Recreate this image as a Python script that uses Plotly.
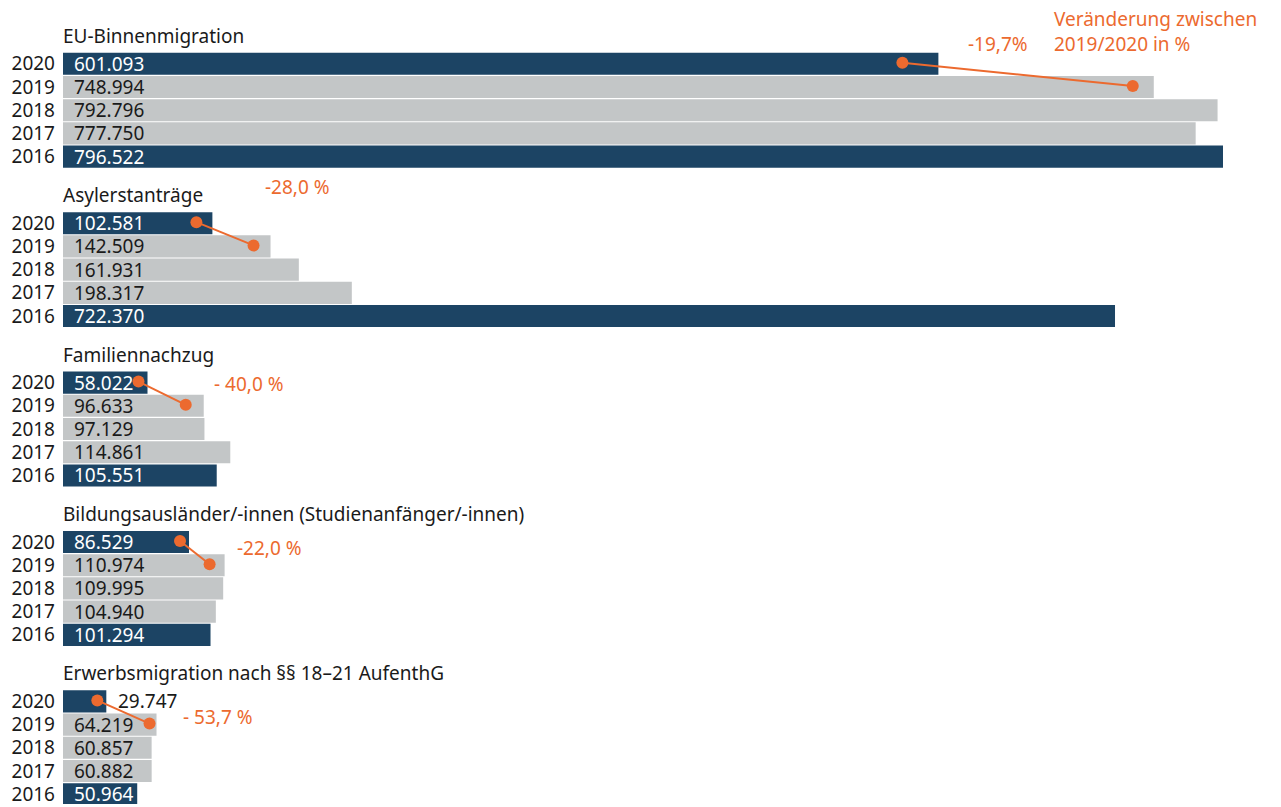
import plotly.graph_objects as go

# ---------------- data ----------------
groups = [
    "EU-Binnenmigration",
    "Asylerstanträge",
    "Familiennachzug",
    "Bildungsausländer/-innen (Studienanfänger/-innen)",
    "Erwerbsmigration nach §§ 18–21 AufenthG",
]
years = ["2020", "2019", "2018", "2017", "2016"]
eu_binnen = [601093, 748994, 792796, 777750, 796522]
asyl = [102581, 142509, 161931, 198317, 722370]
familie = [58022, 96633, 97129, 114861, 105551]
bildung = [86529, 110974, 109995, 104940, 101294]
erwerb = [29747, 64219, 60857, 60882, 50964]
changes = ["-19,7%", "-28,0 %", "- 40,0 %", "-22,0 %", "- 53,7 %"]
legend_text = "Veränderung zwischen<br>2019/2020 in %"

series = [eu_binnen, asyl, familie, bildung, erwerb]

# ---------------- style / layout constants ----------------
W, H = 1273, 799          # page has an 8px body margin
ML, MR = 55, 18
PX_PER_UNIT = 1160 / 796522
XMAX = (W - ML - MR) / PX_PER_UNIT
DARK = "#1c4464"
GRAY = "#c3c6c7"
ORANGE = "#ec6a2f"
TEXT = "#1a1a1a"
FONT = "Noto Sans"
FS = 19

GROUP_TOP = 56      # centre of first 2020 row (px, figure coords)
GROUP_PITCH = 160
ROW_PITCH = 23.3
BAR_W = 22.2
TITLE_DY = -28
# dot insets from bar end (px) for 2020 / 2019 rows
dot_inset = [(36, 21), (16, 17), (9, 18), (9, 15), (9, 7)]
# change-label offsets: (xshift from 2019 bar end, dy from 2020 row centre)
label_off = [(-188, -20), (-8, -36), (8, 1), (10, 6), (24, 16)]

fig = go.Figure()
annotations = []
tickvals, ticktext = [], []

for g, (name, vals) in enumerate(zip(groups, series)):
    base = GROUP_TOP + g * GROUP_PITCH
    ys = [base + r * ROW_PITCH for r in range(len(years))]
    colors = [DARK if y in ("2020", "2016") else GRAY for y in years]
    fig.add_trace(go.Bar(
        x=vals, y=ys, orientation="h", width=BAR_W,
        marker=dict(color=colors, line=dict(width=0)),
        hoverinfo="skip", showlegend=False,
    ))
    tickvals += ys
    ticktext += years

    # value labels
    for v, y, c in zip(vals, ys, colors):
        txt = f"{v:,}".replace(",", ".")
        inside = v * PX_PER_UNIT > 70
        annotations.append(dict(
            x=0 if inside else v, y=y, xref="x", yref="y",
            text=txt, showarrow=False, xanchor="left", yanchor="middle",
            xshift=9 if inside else 10,
            font=dict(family=FONT, size=FS,
                      color=("white" if c == DARK else TEXT) if inside else TEXT),
        ))

    # group title
    annotations.append(dict(
        x=0, y=base + TITLE_DY, xref="x", yref="y", text=name,
        showarrow=False, xanchor="left", yanchor="middle", xshift=-2,
        font=dict(family=FONT, size=FS, color=TEXT),
    ))

    # orange connector dots
    i0, i1 = dot_inset[g]
    fig.add_trace(go.Scatter(
        x=[vals[0] - i0 / PX_PER_UNIT, vals[1] - i1 / PX_PER_UNIT],
        y=[ys[0] - 1, ys[1] - 1],
        mode="lines+markers",
        line=dict(color=ORANGE, width=2),
        marker=dict(color=ORANGE, size=12),
        hoverinfo="skip", showlegend=False,
    ))

    # change label
    dx, dy = label_off[g]
    annotations.append(dict(
        x=vals[1], y=base + dy, xref="x", yref="y", text=changes[g],
        showarrow=False, xanchor="left", yanchor="middle", xshift=dx,
        font=dict(family=FONT, size=FS, color=ORANGE),
    ))

# legend-like note
annotations.append(dict(
    x=eu_binnen[1], y=24, xref="x", yref="y", text=legend_text,
    showarrow=False, xanchor="left", yanchor="middle", align="left",
    xshift=-102,
    font=dict(family=FONT, size=FS, color=ORANGE),
))

fig.update_layout(
    width=W, height=H,
    margin=dict(l=ML, r=MR, t=0, b=0),
    paper_bgcolor="white", plot_bgcolor="white",
    barmode="overlay",
    xaxis=dict(range=[0, XMAX], visible=False, fixedrange=True),
    yaxis=dict(range=[H, 0], tickvals=tickvals, ticktext=ticktext,
               showgrid=False, zeroline=False, showline=False, ticks="",
               ticklabelstandoff=7, ticklabeloverflow="allow",
               tickfont=dict(family=FONT, size=FS, color=TEXT), fixedrange=True),
    annotations=annotations,
    font=dict(family=FONT),
)

fig.write_html("out.html", config={"displayModeBar": False})
